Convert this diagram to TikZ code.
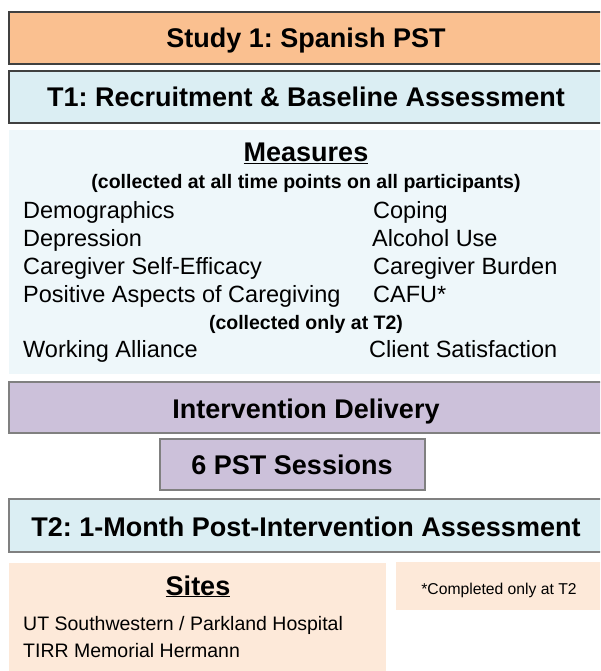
\documentclass[tikz,border=0pt]{standalone}
\usepackage{fontspec}
\setmainfont{Liberation Sans}
\usepackage{tikz}
\frenchspacing

\definecolor{studyfill}{HTML}{FAC090}
\definecolor{timefill}{HTML}{DBEEF3}
\definecolor{measfill}{HTML}{EEF7FA}
\definecolor{intfill}{HTML}{CCC1DA}
\definecolor{sitefill}{HTML}{FDE9D9}
\definecolor{darkline}{HTML}{404040}
\definecolor{greyline}{HTML}{808080}

\tikzset{
  head/.style={font=\fontsize{27}{32}\selectfont\bfseries, inner sep=0pt, anchor=base},
  sub/.style={font=\fontsize{19.5}{23}\selectfont\bfseries, inner sep=0pt, anchor=base},
  item/.style={font=\fontsize{23.5}{28}\selectfont, anchor=base west, inner sep=0pt},
  site/.style={font=\fontsize{19.5}{23}\selectfont, anchor=base west, inner sep=0pt},
}

\begin{document}
\begin{tikzpicture}[x=1pt,y=-1pt]
\useasboundingbox (0,0) rectangle (600,671);
\clip (0,0) rectangle (600,671);

% bands
\filldraw[fill=studyfill, draw=darkline, line width=1.2pt] (9,12) rectangle (603,64);
\filldraw[fill=timefill, draw=darkline, line width=1.2pt] (9,71) rectangle (603,123);
\fill[measfill] (9,130) rectangle (603,374);
\filldraw[fill=intfill, draw=greyline, line width=1.2pt] (9,382) rectangle (603,433);
\filldraw[fill=intfill, draw=greyline, line width=1.2pt] (160,439) rectangle (425,490);
\filldraw[fill=timefill, draw=greyline, line width=1.2pt] (9,499) rectangle (603,552);
\fill[sitefill] (9,563) rectangle (386,671);
\fill[sitefill] (396,562) rectangle (603,610);

\node[head] (study) at (306,48) {Study 1: Spanish PST};
\node[head] (t1) at (306,107) {T1: Recruitment \& Baseline Assessment};

\node[head] (meas) at (306,162) {\underline{Measures}};
\node[sub] (all) at (306,189) {(collected at all time points on all participants)};

\node[item] (m11) at (23,218) {Demographics};
\node[item] (m21) at (23,246) {Depression};
\node[item] (m31) at (23,274) {Caregiver Self-Efficacy};
\node[item] (m41) at (23,302) {Positive Aspects of Caregiving};
\node[item] (m12) at (373,218) {Coping};
\node[item] (m22) at (372,246) {Alcohol Use};
\node[item] (m32) at (373,274) {Caregiver Burden};
\node[item] (m42) at (373,302) {CAFU*};

\node[sub] (only) at (306,329) {(collected only at T2)};
\node[item] (m51) at (23,357) {Working Alliance};
\node[item] (m52) at (369,357) {Client Satisfaction};

\node[head] (deliv) at (306,418) {Intervention Delivery};
\node[head] (sess) at (292,474) {6 PST Sessions};
\node[head] (t2) at (306,536) {T2: 1-Month Post-Intervention Assessment};

\node[head] (sites) at (198,595) {\underline{Sites}};
\node[site] (s1) at (23,630) {UT Southwestern / Parkland Hospital};
\node[site] (s2) at (23,657) {TIRR Memorial Hermann};

\node[font=\fontsize{15.7}{19}\selectfont, inner sep=0pt, anchor=base] (note) at (499,594) {*Completed only at T2};
\end{tikzpicture}
\end{document}
